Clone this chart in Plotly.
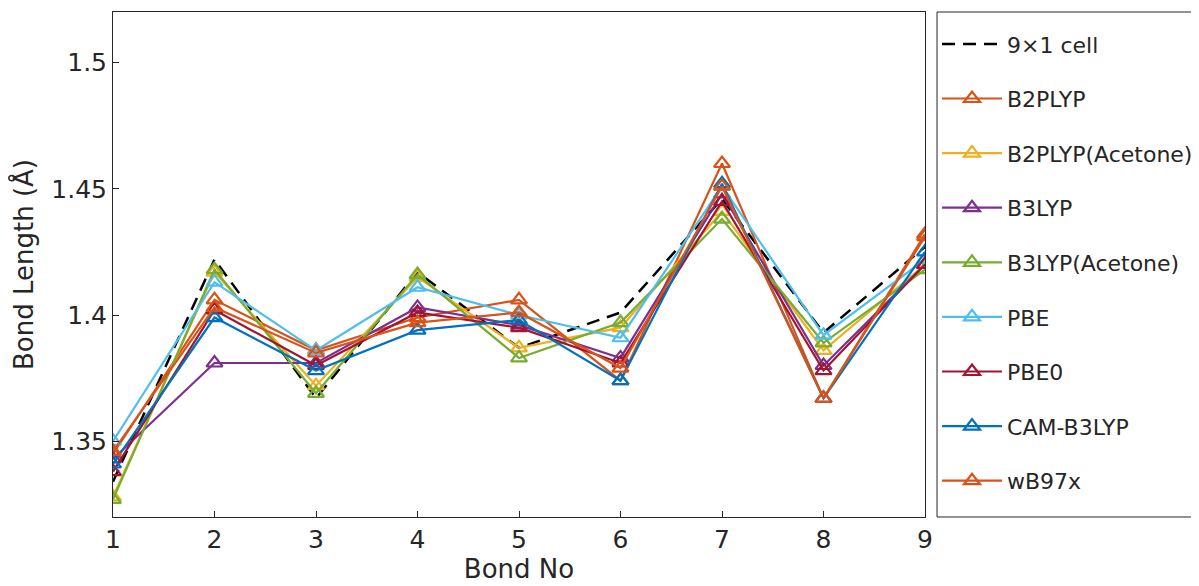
import plotly.graph_objects as go

bond_no = [1, 2, 3, 4, 5, 6, 7, 8, 9]

cell_9x1 = [1.334, 1.422, 1.367, 1.417, 1.387, 1.401, 1.446, 1.393, 1.427]
b2plyp = [1.345, 1.406, 1.386, 1.399, 1.406, 1.374, 1.460, 1.367, 1.432]
b2plyp_acetone = [1.328, 1.417, 1.372, 1.415, 1.387, 1.395, 1.441, 1.386, 1.420]
b3lyp = [1.343, 1.381, 1.381, 1.403, 1.396, 1.383, 1.448, 1.380, 1.420]
b3lyp_acetone = [1.327, 1.418, 1.369, 1.416, 1.383, 1.397, 1.438, 1.389, 1.418]
pbe = [1.350, 1.413, 1.386, 1.411, 1.400, 1.391, 1.451, 1.392, 1.422]
pbe0 = [1.338, 1.402, 1.380, 1.401, 1.395, 1.381, 1.445, 1.378, 1.420]
cam_b3lyp = [1.341, 1.399, 1.378, 1.394, 1.398, 1.374, 1.452, 1.367, 1.425]
wb97x = [1.346, 1.403, 1.385, 1.397, 1.401, 1.379, 1.451, 1.367, 1.431]

series = [
    ("B2PLYP", b2plyp, "#D95319"),
    ("B2PLYP(Acetone)", b2plyp_acetone, "#EDB120"),
    ("B3LYP", b3lyp, "#7E2F8E"),
    ("B3LYP(Acetone)", b3lyp_acetone, "#77AC30"),
    ("PBE", pbe, "#4DBEEE"),
    ("PBE0", pbe0, "#A2142F"),
    ("CAM-B3LYP", cam_b3lyp, "#0072BD"),
    ("wB97x", wb97x, "#D95319"),
]

FONT = "DejaVu Sans"
TXT = "#262626"
AX = 25
LX = 1.0148

fig = go.Figure()
fig.add_trace(go.Scatter(
    x=bond_no, y=cell_9x1, name="9×1 cell", mode="lines",
    line=dict(color="black", width=2.5, dash="13px,8px"), legendgroup="g0",
))
for i, (name, vals, color) in enumerate(series):
    fig.add_trace(go.Scatter(
        x=bond_no, y=vals, name=name, mode="lines+markers",
        line=dict(color=color, width=2.2),
        marker=dict(symbol="triangle-up-open", size=14, color=color,
                    line=dict(width=2.2, color=color)),
        legendgroup=f"g{i+1}",
    ))

box_line = dict(color=TXT, width=1)
fig.update_layout(
    width=1199, height=586,
    paper_bgcolor="white", plot_bgcolor="white",
    margin=dict(l=105, r=282, t=4, b=77, autoexpand=False),
    font=dict(family=FONT, size=AX, color=TXT),
    showlegend=True,
    legend=dict(
        x=LX, xanchor="left", y=0.978, yanchor="top",
        borderwidth=0, bgcolor="rgba(0,0,0,0)",
        font=dict(family=FONT, size=22, color=TXT),
        tracegroupgap=23, itemwidth=60, traceorder="grouped",
        maxheight=800,
    ),
    shapes=[
        dict(type="line", xref="paper", yref="paper", x0=LX, x1=LX, y0=0, y1=1, line=box_line),
        dict(type="line", xref="paper", yref="paper", x0=LX, x1=1.6, y0=1, y1=1, line=box_line),
        dict(type="line", xref="paper", yref="paper", x0=LX, x1=1.6, y0=0, y1=0, line=box_line),
    ],
    xaxis=dict(
        range=[1, 9], tickvals=bond_no, ticktext=[str(v) for v in bond_no],
        showline=True, mirror=True, linecolor=TXT, linewidth=1,
        ticks="inside", ticklen=6, tickcolor=TXT, showgrid=False, zeroline=False,
        title=dict(text="Bond No", font=dict(family=FONT, size=26, color=TXT), standoff=5),
        tickfont=dict(family=FONT, size=AX, color=TXT),
    ),
    yaxis=dict(
        range=[1.32, 1.52], tickvals=[1.35, 1.4, 1.45, 1.5],
        ticktext=["1.35", "1.4", "1.45", "1.5"],
        showline=True, mirror=True, linecolor=TXT, linewidth=1,
        ticks="inside", ticklen=6, tickcolor=TXT, showgrid=False, zeroline=False,
        title=dict(text="Bond Length (Å)", font=dict(family=FONT, size=26, color=TXT), standoff=10),
        tickfont=dict(family=FONT, size=AX, color=TXT),
    ),
)

fig.write_html("out.html")
